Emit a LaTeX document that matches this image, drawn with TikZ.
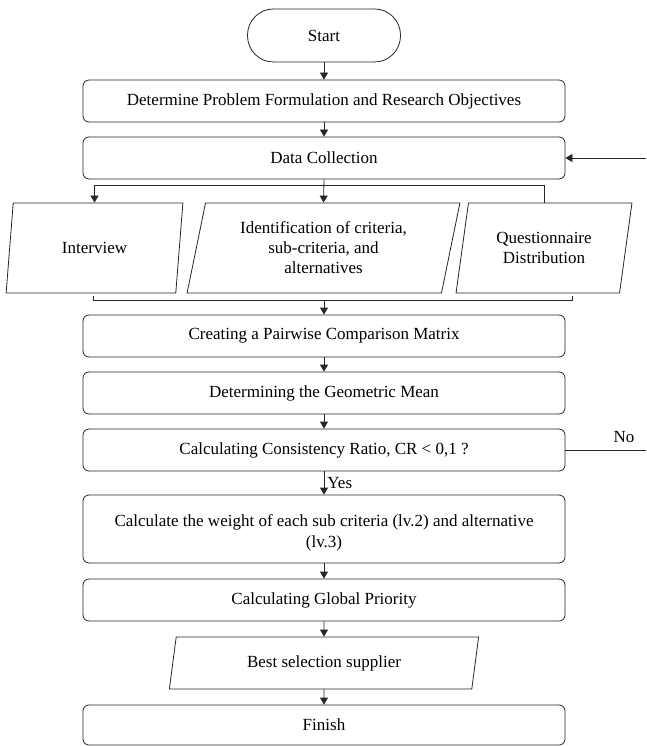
\documentclass[tikz,border=0pt]{standalone}
\usepackage{fontspec}
\setmainfont{Liberation Serif}
\usetikzlibrary{shapes.geometric,arrows.meta}
\begin{document}
\begin{tikzpicture}[x=1pt,y=-1pt,
 every node/.style={font=\fontsize{17}{20}\selectfont},
 ln/.style={draw=black!85, line width=0.8pt},
 box/.style={ln, rounded corners=6pt, minimum width=482pt, minimum height=42pt, inner sep=0pt, align=center},
 term/.style={ln, rounded corners=26pt, minimum width=153pt, minimum height=53pt},
 para/.style={ln, trapezium, trapezium left angle=76, trapezium right angle=104, trapezium stretches=true, inner sep=0pt, align=center},
 arr/.style={ln, -{Triangle[length=7pt,width=8pt]}}
]
\useasboundingbox (0,0) rectangle (646,746);
\node[term] (start) at (324,35.5) {Start};
\node[box] (b1) at (324,101) {Determine Problem Formulation and Research Objectives};
\node[box] (dc) at (324,158) {Data Collection};
\node[para, minimum width=177pt, minimum height=90pt] (iv) at (94.5,248) {Interview};
\node[para, minimum width=273pt, minimum height=90pt] (id) at (323.5,248) {Identification of criteria,\\ sub-criteria, and\\ alternatives};
\node[para, minimum width=176pt, minimum height=90pt] (qd) at (544,248) {Questionnaire\\ Distribution};
\node[box] (pc) at (324,336) {Creating a Pairwise Comparison Matrix};
\node[box] (gm) at (324,393) {Determining the Geometric Mean};
\node[box] (cr) at (324,450) {Calculating Consistency Ratio, CR < 0,1 ?};
\node[box, minimum height=68pt, font=\fontsize{17}{21}\selectfont] (cw) at (324,529) {\rule{0pt}{20pt}Calculate the weight of each sub criteria (lv.2) and alternative\\ (lv.3)};
\node[box] (gp) at (324,600) {Calculating Global Priority};
\node[para, minimum width=310pt, minimum height=52pt, trapezium left angle=77, trapezium right angle=103] (bs) at (324,663) {Best selection supplier};
\node[box, minimum height=40pt] (fin) at (324,725) {Finish};
% connectors
\draw[arr] (start.south) -- (b1.north);
\draw[arr] (b1.south) -- (dc.north);
\coordinate (jn) at (324,185);
\draw[arr] (dc.south) -- (id.north);
\draw[arr] (jn) -| (iv.north);
\draw[ln] (jn) -| (qd.north);
\coordinate (mL) at (93,296);
\coordinate (mR) at (572,296);
\coordinate (mj) at (324,300);
\draw[ln] (mL) -- (93,300) -- (572,300) -- (mR);
\draw[arr] (mj) -- (pc.north);
\draw[arr] (pc.south) -- (gm.north);
\draw[arr] (gm.south) -- (cr.north);
\draw[arr] (cr.south) -- node[right, inner sep=3pt] (yes) {Yes} (cw.north);
\draw[arr] (cw.south) -- (gp.north);
\draw[arr] (gp.south) -- (bs.north);
\draw[arr] (bs.south) -- (fin.north);
\coordinate (fbT) at (646,158);
\draw[arr] (fbT) -- (dc.east);
\coordinate (fbB) at (646,450);
\draw[ln] (cr.east) -- (fbB);
\node (no) at (624,437) {No};
\end{tikzpicture}
\end{document}
